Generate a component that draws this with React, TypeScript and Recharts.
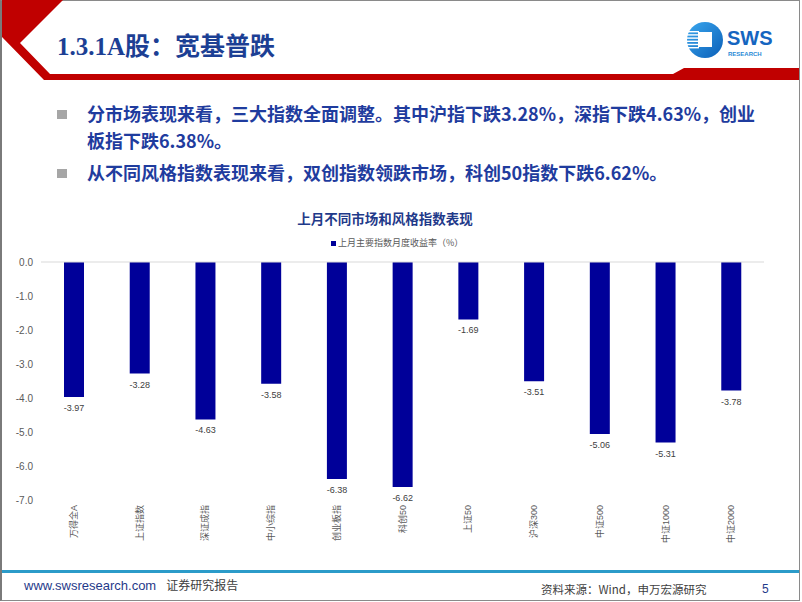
import React from "react";
import { BarChart, Bar, XAxis, YAxis, ReferenceLine, LabelList } from "recharts";

const categories = [
  "万得全A",
  "上证指数",
  "深证成指",
  "中小综指",
  "创业板指",
  "科创50",
  "上证50",
  "沪深300",
  "中证500",
  "中证1000",
  "中证2000",
];
const monthlyReturn = [-3.97, -3.28, -4.63, -3.58, -6.38, -6.62, -1.69, -3.51, -5.06, -5.31, -3.78];
const yTicks = [0, -1, -2, -3, -4, -5, -6, -7];

const seriesName = "上月主要指数月度收益率（%）";
const chartTitle = "上月不同市场和风格指数表现";

const data = categories.map((name, i) => ({ name, value: monthlyReturn[i] }));

const BLUE = "#000099";
const GREY = "#595959";
const TEXT_BLUE = "#1f3c9e";
const chartFont = "'Liberation Sans', 'Noto Sans CJK SC', sans-serif";
const cjkFont = "'Noto Sans CJK SC', 'Liberation Sans', sans-serif";

function CategoryTick(props: any) {
  const { x, y, payload } = props;
  return (
    <g transform={`translate(${x},${y})`}>
      <text
        transform="rotate(-90)"
        x={3}
        dy="0.35em"
        textAnchor="end"
        fontSize={9}
        fill={GREY}
        fontFamily={chartFont}
      >
        {payload.value}
      </text>
    </g>
  );
}

function ValueLabel(props: any) {
  const { x, y, width, height, value } = props;
  const bottom = Math.max(y, y + height);
  return (
    <text
      x={x + width / 2}
      y={bottom + 14}
      textAnchor="middle"
      fontSize={9}
      fill="#404040"
      fontFamily={chartFont}
    >
      {Number(value).toFixed(2)}
    </text>
  );
}

function Logo() {
  return (
    <svg width={100} height={50} style={{ position: "absolute", left: 684, top: 16 }}>
      <defs>
        <linearGradient id="logoGrad" x1="0" y1="0" x2="1" y2="1">
          <stop offset="0%" stopColor="#3aa7ee" />
          <stop offset="100%" stopColor="#0b5fb8" />
        </linearGradient>
      </defs>
      <circle cx={21} cy={24} r={18} fill="url(#logoGrad)" />
      {[0, 1, 2, 3, 4, 5].map((k) => (
        <rect key={k} x={3} y={15 + k * 3.2} width={12} height={1.4} fill="#fff" />
      ))}
      <rect x={14} y={16} width={14} height={15} fill="#fff" />
      <text x={43} y={29} fontSize={20} fontWeight="bold" fill="#1565c0" fontFamily={chartFont}>
        SWS
      </text>
      <text x={44} y={40} fontSize={6} fontWeight="bold" fill="#2a8ad6" fontFamily={chartFont}>
        RESEARCH
      </text>
    </svg>
  );
}

export default function App() {
  return (
    <div
      style={{
        position: "fixed",
        left: 0,
        top: 0,
        width: 802,
        height: 602,
        background: "#fff",
        overflow: "hidden",
      }}
    >
      <div
        style={{
          position: "absolute",
          left: 0,
          top: 0,
          width: 800,
          height: 601,
          boxSizing: "border-box",
          border: "1px solid #8a8a8a",
          borderLeft: "2px solid #7a7a7a",
        }}
      />
      <svg width={802} height={90} style={{ position: "absolute", left: 0, top: 0 }}>
        <polygon
          points="2,0 63,0 20,43 50,74 673,74 684,68 799,68 799,80 44,80 2,37"
          fill="#c00000"
        />
      </svg>
      <div
        style={{
          position: "absolute",
          left: 57,
          top: 26,
          fontSize: 25,
          fontWeight: "bold",
          color: "#1c3f94",
          fontFamily: "'Liberation Serif', 'Noto Sans CJK SC', serif",
          whiteSpace: "nowrap",
        }}
      >
        1.3.1A股：宽基普跌
      </div>
      <Logo />

      {[
        { top: 100, lines: ["分市场表现来看，三大指数全面调整。其中沪指下跌3.28%，深指下跌4.63%，创业", "板指下跌6.38%。"] },
        { top: 159, lines: ["从不同风格指数表现来看，双创指数领跌市场，科创50指数下跌6.62%。"] },
      ].map((b, i) => (
        <div key={i} style={{ position: "absolute", left: 57, top: b.top }}>
          <div
            style={{
              position: "absolute",
              left: 0,
              top: 10,
              width: 10,
              height: 9,
              background: "#a6a6a6",
            }}
          />
          <div
            style={{
              position: "absolute",
              left: 30,
              top: 0,
              fontSize: 18,
              lineHeight: "27px",
              fontWeight: "bold",
              color: TEXT_BLUE,
              fontFamily: cjkFont,
              whiteSpace: "nowrap",
            }}
          >
            {b.lines.map((l, j) => (
              <div key={j}>{l}</div>
            ))}
          </div>
        </div>
      ))}

      <div
        style={{
          position: "absolute",
          left: 0,
          width: 770,
          top: 208,
          textAlign: "center",
          fontSize: 13.5,
          fontWeight: "bold",
          color: "#1f3a8a",
          fontFamily: cjkFont,
          lineHeight: "20px",
        }}
      >
        {chartTitle}
      </div>
      <div
        style={{
          position: "absolute",
          left: 331,
          top: 237,
          fontSize: 9,
          lineHeight: "12px",
          color: GREY,
          fontFamily: cjkFont,
          whiteSpace: "nowrap",
          display: "flex",
          alignItems: "center",
        }}
      >
        <span style={{ display: "inline-block", width: 5, height: 5, background: BLUE, marginRight: 2 }} />
        {seriesName}
      </div>

      <div style={{ position: "absolute", left: 0, top: 250 }}>
        <BarChart
          width={802}
          height={310}
          data={data}
          margin={{ top: 12, right: 38, bottom: 5, left: 0 }}
          barSize={20}
        >
          <XAxis
            dataKey="name"
            axisLine={false}
            tickLine={false}
            interval={0}
            height={55}
            tick={<CategoryTick />}
          />
          <YAxis
            width={41}
            domain={[-7, 0]}
            ticks={yTicks}
            axisLine={false}
            tickLine={false}
            tickFormatter={(v: number) => v.toFixed(1)}
            tick={{ fontSize: 10, fill: GREY, fontFamily: chartFont }}
          />
          <ReferenceLine y={0} stroke="#d9d9d9" strokeWidth={1} />
          <Bar dataKey="value" name={seriesName} fill={BLUE} isAnimationActive={false}>
            <LabelList dataKey="value" content={<ValueLabel />} />
          </Bar>
        </BarChart>
      </div>

      <div
        style={{
          position: "absolute",
          left: 2,
          top: 570,
          width: 797,
          height: 3,
          background: "#2b9bc9",
        }}
      />
      <div
        style={{
          position: "absolute",
          left: 24,
          top: 577,
          fontSize: 13,
          lineHeight: "16px",
          whiteSpace: "nowrap",
          fontFamily: chartFont,
        }}
      >
        <span style={{ color: "#1f3a8a" }}>www.swsresearch.com</span>
        <span style={{ color: "#404040", marginLeft: 10, fontSize: 12, fontFamily: cjkFont }}>证券研究报告</span>
      </div>
      <div
        style={{
          position: "absolute",
          left: 541,
          top: 581,
          fontSize: 11.5,
          lineHeight: "16px",
          color: "#404040",
          whiteSpace: "nowrap",
          fontFamily: cjkFont,
        }}
      >
        资料来源：Wind，申万宏源研究
      </div>
      <div
        style={{
          position: "absolute",
          left: 762,
          top: 581,
          fontSize: 12,
          lineHeight: "16px",
          color: "#1f3a8a",
          fontFamily: chartFont,
        }}
      >
        5
      </div>
    </div>
  );
}
